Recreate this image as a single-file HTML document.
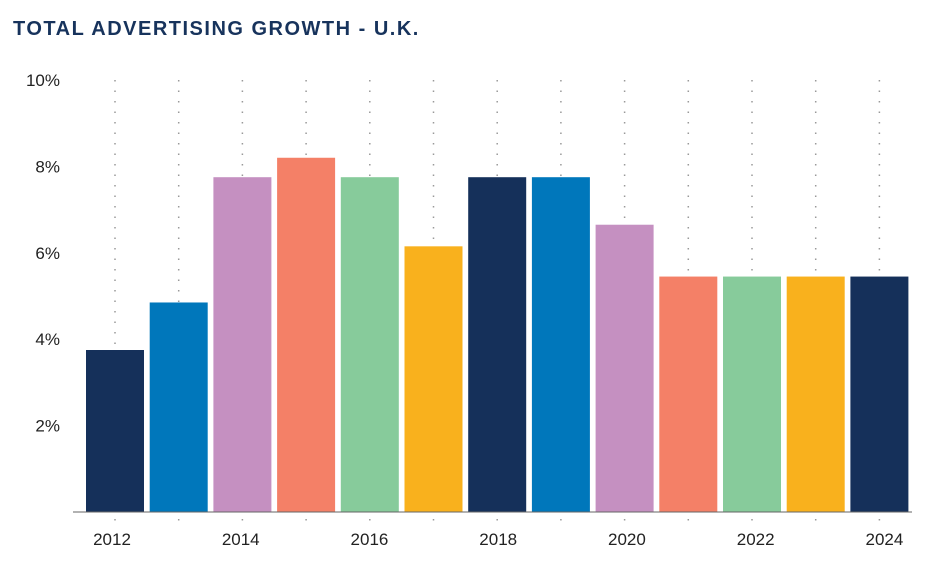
<!DOCTYPE html>
<html><head><meta charset="utf-8"><style>
body{margin:0;background:#fff;width:927px;height:566px;overflow:hidden;font-family:"Liberation Sans",sans-serif}
</style></head><body>
<svg width="927" height="566" xmlns="http://www.w3.org/2000/svg">
<text x="13" y="35" font-size="20" font-weight="bold" letter-spacing="1.5" fill="#17335c" font-family="Liberation Sans, sans-serif">TOTAL ADVERTISING GROWTH - U.K.</text>
<g id="grid"></g><g id="bars"></g><g id="axes"></g>
</svg>
<script>
const years=[2012,2013,2014,2015,2016,2017,2018,2019,2020,2021,2022,2023,2024];
const growth=[3.75,4.85,7.75,8.2,7.75,6.15,7.75,7.75,6.65,5.45,5.45,5.45,5.45];
const yTicks=[2,4,6,8,10];
const yTickLabels=["2%","4%","6%","8%","10%"];
const xLabelYears=[2012,2014,2016,2018,2020,2022,2024];
const colors=["#15305a","#0077bb","#c590c1","#f48067","#87cb9b","#f9b11d"];
const NS="http://www.w3.org/2000/svg";
const y0=512,yTop=80,x0=86,step=63.7,bw=58;
const yS=v=>y0-(v/10)*(y0-yTop);
const xS=i=>x0+i*step;
function mk(t,a,p){const e=document.createElementNS(NS,t);for(const k in a)e.setAttribute(k,a[k]);p.appendChild(e);return e;}
const grid=document.getElementById('grid'),bars=document.getElementById('bars'),axes=document.getElementById('axes');
years.forEach((y,i)=>{
 const cx=xS(i)+bw/2;
 const g=mk('line',{x1:cx,x2:cx,y1:yTop,y2:y0,stroke:'#999','stroke-width':1.5,'stroke-dasharray':'1.5 9'},grid);
 
 
 const t=mk('line',{x1:cx,x2:cx,y1:519,y2:525,stroke:'#999','stroke-width':1.5,'stroke-dasharray':'1.5 5'},grid);
 
 
 const r=mk('rect',{x:xS(i),y:yS(growth[i]),width:bw,height:y0-yS(growth[i]),fill:colors[i%6]},bars);
 
 
});
const base=mk('line',{x1:73,x2:912,y1:y0,y2:y0,stroke:'#666','stroke-width':1},axes);


yTicks.forEach((v,i)=>{
 const t=mk('text',{x:60,y:yS(v)+6,'text-anchor':'end','font-size':17,fill:'#222'},axes);
 t.textContent=yTickLabels[i];
 
 
});
xLabelYears.forEach(y=>{
 const i=years.indexOf(y);
 const t=mk('text',{x:xS(i)+bw/2+(i/12)*8-3,y:545,'text-anchor':'middle','font-size':17,fill:'#222'},axes);
 t.textContent=y;
 
 
});
</script>
</body></html>
